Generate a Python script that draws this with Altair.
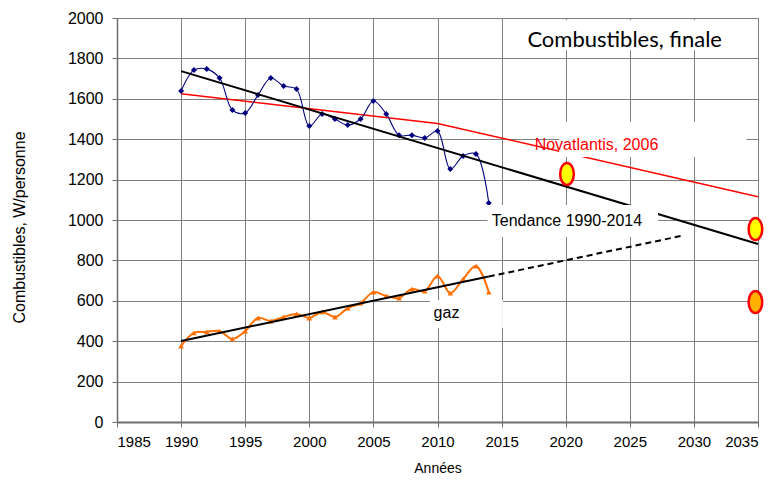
import altair as alt
import pandas as pd

# ---------------- data ----------------
years = list(range(1990, 2015))
fuel = [1638, 1742, 1747, 1703, 1544, 1530, 1619, 1703, 1663, 1648,
        1465, 1525, 1500, 1470, 1500, 1589, 1525, 1420, 1420, 1406,
        1440, 1252, 1317, 1327, 1084]
gas = [376, 441, 446, 450, 411, 450, 515, 500, 520, 535,
       515, 545, 520, 564, 589, 643, 624, 614, 658, 648,
       723, 638, 708, 772, 643]

trend_years = [1990, 2035]
trend_vals = [1737, 881]

gas_trend_years = [1990, 2014]
gas_trend_vals = [401, 720]
gas_ext_years = [2014, 2029]
gas_ext_vals = [720, 921]

nova_years = [1990, 2010, 2035]
nova_vals = [1625, 1478, 1115]

target_years = [2020.1, 2034.8, 2034.8]
target_vals = [1228, 955, 594]
target_fill = ["#FFFF00", "#FFFF00", "#FFB000"]

label_text = ["Combustibles, finale", "Novatlantis, 2006", "Tendance 1990-2014", "gaz"]
label_x = [2024.6, 2022.4, 2020.1, 2010.7]
label_y = [1891, 1371, 995, 540]
label_color = ["#000000", "#FF0000", "#000000", "#000000"]
label_size = [22, 16, 16, 16]
label_font = ["Lato", "Liberation Sans", "Liberation Sans", "Liberation Sans"]
box_x1 = [2015.3, 2019.5, 2013.9, 2009.4]
box_x2 = [2034.9, 2034.1, 2027.2, 2015.1]
box_y1 = [1990, 1485, 1074, 604]
box_y2 = [1841, 1312, 916, 465]

x_ticks = list(range(1985, 2036, 5))
y_ticks = list(range(0, 2001, 200))

# ---------------- encodings ----------------
xscale = alt.Scale(domain=[1985, 2035], nice=False, zero=False)
yscale = alt.Scale(domain=[0, 2000], nice=False)

xaxis = alt.Axis(values=x_ticks, format="d", title="Années",
                 grid=True, gridColor="#7f7f7f", gridWidth=1,
                 domainColor="#6e6e6e", domainWidth=2,
                 tickColor="#6e6e6e", tickSize=5,
                 labelFont="Liberation Sans", labelFontSize=15, labelColor="#000",
                 labelPadding=7, titleFont="Liberation Sans", titleFontSize=14,
                 titleFontWeight="normal", titleColor="#000", titlePadding=12)
yaxis = alt.Axis(values=y_ticks, format="d", title="Combustibles, W/personne",
                 grid=True, gridColor="#7f7f7f", gridWidth=1,
                 domainColor="#6e6e6e", domainWidth=1.5,
                 tickColor="#6e6e6e", tickSize=5,
                 labelFont="Liberation Sans", labelFontSize=16, labelColor="#000",
                 labelPadding=9, titleFont="Liberation Sans", titleFontSize=16,
                 titleFontWeight="normal", titleColor="#000", titlePadding=40,
                 titleY=209)


def X(field="x:Q"):
    return alt.X(field, scale=xscale, axis=xaxis, title="Années")


def Y(field="y:Q"):
    return alt.Y(field, scale=yscale, axis=yaxis, title="Combustibles, W/personne")


df_fuel = pd.DataFrame({"x": years, "y": fuel})
df_gas = pd.DataFrame({"x": years, "y": gas})
df_trend = pd.DataFrame({"x": trend_years, "y": trend_vals})
df_gtrend = pd.DataFrame({"x": gas_trend_years, "y": gas_trend_vals})
df_gext = pd.DataFrame({"x": gas_ext_years, "y": gas_ext_vals})
df_nova = pd.DataFrame({"x": nova_years, "y": nova_vals})
df_target = pd.DataFrame({"x": target_years, "y": target_vals, "fill": target_fill})
df_labels = pd.DataFrame({"text": label_text, "x": label_x, "y": label_y,
                          "x1": box_x1, "x2": box_x2, "y1": box_y1, "y2": box_y2})

nova = alt.Chart(df_nova).mark_line(color="#FF0000", strokeWidth=1.5).encode(x=X(), y=Y())

fuel_line = alt.Chart(df_fuel).mark_line(color="#000080", strokeWidth=1.1,
                                         interpolate="catmull-rom").encode(x=X(), y=Y())
fuel_pts = alt.Chart(df_fuel).mark_point(shape="diamond", filled=True, color="#000080",
                                         size=36, opacity=1).encode(x=X(), y=Y())

gas_line = alt.Chart(df_gas).mark_line(color="#FF7000", strokeWidth=2,
                                       interpolate="catmull-rom").encode(x=X(), y=Y())
gas_pts = alt.Chart(df_gas).mark_point(shape="triangle-up", filled=True, color="#FF7000",
                                       size=32, opacity=1).encode(x=X(), y=Y())

trend = alt.Chart(df_trend).mark_line(color="#000000", strokeWidth=2).encode(x=X(), y=Y())
gtrend = alt.Chart(df_gtrend).mark_line(color="#000000", strokeWidth=2).encode(x=X(), y=Y())
gext = alt.Chart(df_gext).mark_line(color="#000000", strokeWidth=2,
                                    strokeDash=[6, 4]).encode(x=X(), y=Y())

boxes = alt.Chart(df_labels).mark_rect(fill="#FFFFFF", strokeWidth=0).encode(
    x=X("x1:Q"), x2="x2:Q", y=Y("y1:Q"), y2="y2:Q")

texts = []
for i in range(len(label_text)):
    texts.append(
        alt.Chart(df_labels.iloc[[i]]).mark_text(
            font=label_font[i], fontSize=label_size[i], color=label_color[i],
            align="center", baseline="middle").encode(x=X(), y=Y(), text="text:N"))

ellipse = "M -0.62 0 A 0.62 1 0 1 0 0.62 0 A 0.62 1 0 1 0 -0.62 0 Z"
targets = alt.Chart(df_target).mark_point(shape=ellipse, filled=True, size=484,
                                          stroke="#FF0000", strokeWidth=2.5,
                                          opacity=1).encode(
    x=X(), y=Y(), fill=alt.Fill("fill:N", scale=None))

chart = alt.layer(nova, fuel_line, fuel_pts, gas_line, gas_pts, trend, gtrend, gext,
                  boxes, *texts, targets).properties(
    width=641, height=404,
    autosize=alt.AutoSizeParams(type="none"),
    padding={"left": 109, "top": 10, "right": 12, "bottom": 58},
    background="#FFFFFF",
).configure_view(stroke="#7f7f7f", strokeWidth=1)

chart.save("out.html", embed_options={"renderer": "svg", "actions": False})
